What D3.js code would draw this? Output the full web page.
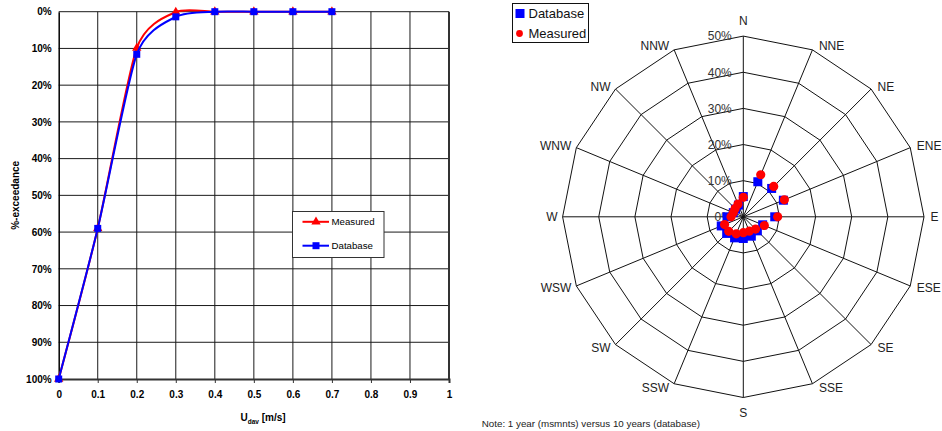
<!DOCTYPE html>
<html><head><meta charset="utf-8">
<script src="https://cdn.jsdelivr.net/npm/d3@7"></script>
<style>
html,body{margin:0;padding:0;background:#fff;}
svg{display:block;font-family:Arial,"Liberation Sans",sans-serif;}
</style></head>
<body><svg id="c" width="942" height="431"></svg>
<script>
// ---------- Data: exceedance curve ----------
const speeds = [0, 0.1, 0.2, 0.3, 0.4, 0.5, 0.6, 0.7];
const measuredExceed = [1.00, 0.59, 0.099, 0.001, 0, 0, 0, 0];
const databaseExceed = [1.00, 0.59, 0.116, 0.014, 0, 0, 0, 0];
const xTicks = [0, 0.1, 0.2, 0.3, 0.4, 0.5, 0.6, 0.7, 0.8, 0.9, 1];
const yTicks = [0, 0.1, 0.2, 0.3, 0.4, 0.5, 0.6, 0.7, 0.8, 0.9, 1];
const curveLegend = ["Measured", "Database"];

// ---------- Data: direction rose ----------
const directions = ["N","NNE","NE","ENE","E","ESE","SE","SSE","S","SSW","SW","WSW","W","WNW","NW","NNW"];
const roseDatabase = [5.6, 10.5, 11.1, 12.0, 8.7, 5.8, 5.5, 5.8, 6.0, 6.3, 6.5, 6.6, 4.5, 3.0, 3.0, 3.5];
const roseMeasured = [5.4, 12.6, 11.9, 12.3, 9.5, 6.3, 4.8, 4.3, 4.4, 5.1, 5.7, 5.6, 3.4, 3.0, 3.2, 3.8];
const roseRings = [10, 20, 30, 40, 50];
const roseRingLabels = ["0%", "10%", "20%", "30%", "40%", "50%"];
const roseLegend = ["Database", "Measured"];
const noteText = "Note: 1 year (msmnts) versus 10 years (database)";

const svg = d3.select("#c");
svg.append("rect").attr("width",942).attr("height",431).attr("fill","#fff");

// ================= LEFT CHART =================
const L = {x0:58.7, x1:449, y0:11.7, y1:379};
const x = d3.scaleLinear().domain([0,1]).range([L.x0, L.x1]);
const y = d3.scaleLinear().domain([0,1]).range([L.y0, L.y1]);
const g = svg.append("g");

// grid
g.selectAll("line.vg").data(xTicks.slice(1,-1)).join("line")
  .attr("x1",d=>x(d)).attr("x2",d=>x(d)).attr("y1",L.y0).attr("y2",L.y1)
  .attr("stroke","#1a1a1a").attr("stroke-width",1);
g.selectAll("line.hg").data(yTicks.slice(0,-1)).join("line")
  .attr("x1",L.x0).attr("x2",L.x1).attr("y1",d=>y(d)).attr("y2",d=>y(d))
  .attr("stroke","#1a1a1a").attr("stroke-width",1);
// frame
g.append("line").attr("x1",L.x1).attr("x2",L.x1).attr("y1",L.y0).attr("y2",L.y1).attr("stroke","#333").attr("stroke-width",2);

// axes
const yAxis = g.append("g").attr("transform",`translate(${L.x0},0)`)
  .call(d3.axisLeft(y).tickValues(yTicks).tickFormat(d=>Math.round(d*100)+"%").tickSize(0).tickPadding(7));
yAxis.select(".domain").attr("stroke","#000").attr("stroke-width",1.5);
yAxis.selectAll("text").attr("font-size",10).attr("font-weight","bold").attr("fill","#000").attr("font-family","Arial, 'Liberation Sans', sans-serif");

const xAxis = g.append("g").attr("transform",`translate(0,${L.y1})`)
  .call(d3.axisBottom(x).tickValues(xTicks).tickFormat(d=>String(+d.toFixed(1))).tickSize(4).tickPadding(8));
xAxis.select(".domain").attr("stroke","#333").attr("stroke-width",2);
xAxis.selectAll(".tick line").attr("stroke","#333");
xAxis.selectAll("text").attr("font-size",10).attr("font-weight","bold").attr("fill","#000").attr("font-family","Arial, 'Liberation Sans', sans-serif");

// titles
const xt = g.append("text").attr("x",263).attr("y",421).attr("text-anchor","middle")
  .attr("font-size",10).attr("font-weight","bold");
xt.append("tspan").text("U");
xt.append("tspan").attr("font-size",6.5).attr("dy",2.5).text("dav");
xt.append("tspan").attr("dy",-2.5).text(" [m/s]");
g.append("text").attr("transform",`translate(18.5,${(L.y0+L.y1)/2}) rotate(-90)`)
  .attr("text-anchor","middle").attr("font-size",10).attr("font-weight","bold").text("%-exceedance");

// curves
const line = d3.line().x(d=>x(d[0])).y(d=>y(d[1])).curve(d3.curveCardinal.tension(0.3));
const measPts = speeds.map((s,i)=>[s, measuredExceed[i]]);
const dbPts = speeds.map((s,i)=>[s, databaseExceed[i]]);
const tri = d3.symbol().type(d3.symbolTriangle).size(38);
g.append("path").attr("d",line(measPts)).attr("fill","none").attr("stroke","#ff0000").attr("stroke-width",2);
g.selectAll("path.mt").data(measPts).join("path").attr("d",tri)
  .attr("transform",d=>`translate(${x(d[0])},${y(d[1])})`).attr("fill","#ff0000");
g.append("path").attr("d",line(dbPts)).attr("fill","none").attr("stroke","#0000ff").attr("stroke-width",2);
g.selectAll("rect.ds").data(dbPts).join("rect")
  .attr("x",d=>x(d[0])-3.5).attr("y",d=>y(d[1])-3.5).attr("width",7).attr("height",7).attr("fill","#0000ff");

// legend
const lg = g.append("g");
lg.append("rect").attr("x",292.5).attr("y",211.5).attr("width",91.5).attr("height",46).attr("fill","#fff").attr("stroke","#333").attr("stroke-width",1);
const legY = [221.8, 245.7];
const legCol = ["#ff0000","#0000ff"];
curveLegend.forEach((name,i)=>{
  lg.append("line").attr("x1",302.5).attr("x2",329).attr("y1",legY[i]).attr("y2",legY[i]).attr("stroke",legCol[i]).attr("stroke-width",2);
  if(i===0) lg.append("path").attr("d",tri).attr("transform",`translate(316,${legY[i]})`).attr("fill",legCol[i]);
  else lg.append("rect").attr("x",312.5).attr("y",legY[i]-3.5).attr("width",7).attr("height",7).attr("fill",legCol[i]);
  lg.append("text").attr("x",331.5).attr("y",legY[i]).attr("dy","0.35em").attr("font-size",9.7).text(name);
});

// ================= RIGHT CHART (rose) =================
const cx = 743.3, cy = 216.8, R = 180.7;
const r = d3.scaleLinear().domain([0,50]).range([0,R]);
const ang = d3.scalePoint().domain(directions).range([0, 360 - 360/directions.length]);
const pt = (dir, v) => { const a = ang(dir)*Math.PI/180; return [cx + r(v)*Math.sin(a), cy - r(v)*Math.cos(a)]; };
const rg = svg.append("g");

roseRings.forEach(v=>{
  const pts = directions.map(d=>pt(d,v));
  rg.append("path").attr("d","M"+pts.map(p=>p.join(",")).join("L")+"Z")
    .attr("fill","none").attr("stroke","#111").attr("stroke-width",1);
});
directions.forEach(d=>{
  const p = pt(d,50);
  rg.append("line").attr("x1",cx).attr("y1",cy).attr("x2",p[0]).attr("y2",p[1]).attr("stroke","#111").attr("stroke-width",1);
});
// ring labels
roseRingLabels.forEach((t,i)=>{
  rg.append("text").attr("x",cx-11.5).attr("y",cy - r(i*10)).attr("dy","0.36em")
    .attr("text-anchor","end").attr("font-size",12).attr("fill","#333").text(t);
});
// direction labels
directions.forEach(d=>{
  const a = ang(d)*Math.PI/180;
  const p = pt(d,50);
  const s = Math.sin(a), c = Math.cos(a);
  let anchor = Math.abs(s)<0.01 ? "middle" : (s>0 ? "start" : "end");
  let lx = p[0], ly = p[1];
  if (anchor==="middle") { ly += c>0 ? -15 : 15.5; }
  else { lx += s>0 ? 6.5 : -5; ly += -4*c; }
  rg.append("text").attr("x",lx).attr("y",ly).attr("dy","0.36em").attr("text-anchor",anchor)
    .attr("font-size",12).attr("fill","#222").text(d);
});
// data
rg.selectAll("rect.db").data(directions).join("rect")
  .attr("x",(d,i)=>pt(d,roseDatabase[i])[0]-4.5).attr("y",(d,i)=>pt(d,roseDatabase[i])[1]-4.5)
  .attr("width",9).attr("height",9).attr("fill","#0000ff");
rg.selectAll("circle.ms").data(directions).join("circle")
  .attr("cx",(d,i)=>pt(d,roseMeasured[i])[0]).attr("cy",(d,i)=>pt(d,roseMeasured[i])[1])
  .attr("r",4.6).attr("fill","#ff0000");

// rose legend
const rl = svg.append("g");
rl.append("rect").attr("x",512.5).attr("y",3.5).attr("width",76).attr("height",39).attr("fill","#fff").attr("stroke","#111").attr("stroke-width",1);
rl.append("rect").attr("x",515.5).attr("y",9).attr("width",9).attr("height",9).attr("fill","#0000ff");
rl.append("circle").attr("cx",519.5).attr("cy",33.5).attr("r",3.4).attr("fill","#ff0000");
rl.append("text").attr("x",528.5).attr("y",13.5).attr("dy","0.36em").attr("font-size",13).attr("fill","#111").text(roseLegend[0]);
rl.append("text").attr("x",528.5).attr("y",33.5).attr("dy","0.36em").attr("font-size",13).attr("fill","#111").text(roseLegend[1]);

svg.append("text").attr("x",481.7).attr("y",423.5).attr("dy","0.36em").attr("font-size",9.8).attr("fill","#222").text(noteText);
</script></body></html>
